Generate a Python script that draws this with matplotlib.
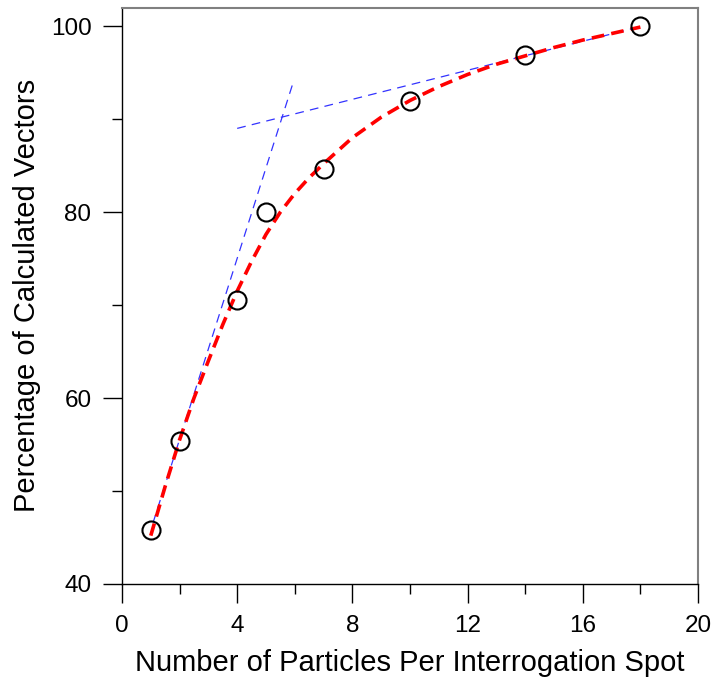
import matplotlib
matplotlib.use("Agg")
import matplotlib.pyplot as plt
from matplotlib.ticker import MultipleLocator

plt.rcParams['font.family'] = ['Liberation Sans', 'DejaVu Sans']

# measured points
particles = [1, 2, 4, 5, 7, 10, 14, 18]
percent = [45.8, 55.4, 70.5, 80.0, 84.6, 92.0, 96.9, 100.0]

# fitted curve
fit_x = [1, 1.5, 2, 2.5, 3, 3.5, 4, 4.5, 5, 5.5, 6, 6.5, 7,
         8, 9, 10, 11, 12, 13, 14, 15, 16, 17, 18]
fit_y = [45.2, 50.5, 55.5, 60.0, 64.0, 67.9, 71.5, 74.7, 77.6, 80.0, 82.0, 83.7, 85.2,
         88.0, 90.2, 92.0, 93.5, 94.8, 95.9, 96.8, 97.7, 98.5, 99.2, 99.9]

# tangent lines
steep_x = [1.08, 5.95]
steep_y = [46.6, 94.0]
flat_x = [4.0, 17.95]
flat_y = [89.0, 99.9]

fig = plt.figure(figsize=(7.15, 6.84), dpi=100)
ax = fig.add_axes([0.1706, 0.1462, 0.8056, 0.8428])

ax.plot(steep_x, steep_y, color='#3333ff', lw=0.9, dashes=(7, 5))
ax.plot(flat_x, flat_y, color='#3333ff', lw=0.9, dashes=(7, 5))
ax.plot(fit_x, fit_y, color='#ff0000', lw=2.6, dashes=(3.5, 2.0))
ax.plot(particles, percent, 'o', mfc='none', mec='black', ms=13, mew=1.5)

ax.set_xlim(0, 20)
ax.set_ylim(40, 102)
ax.xaxis.set_major_locator(MultipleLocator(4))
ax.xaxis.set_minor_locator(MultipleLocator(2))
ax.yaxis.set_major_locator(MultipleLocator(20))
ax.yaxis.set_minor_locator(MultipleLocator(10))
ax.tick_params(which='major', direction='out', length=14, width=1, labelsize=17.5, pad=8)
ax.tick_params(which='minor', direction='out', length=7, width=1)

for s in ['top', 'right']:
    ax.spines[s].set_color('#808080')
    ax.spines[s].set_linewidth(1.5)
for s in ['left', 'bottom']:
    ax.spines[s].set_linewidth(1)

ax.set_xlabel('Number of Particles Per Interrogation Spot', fontsize=21, labelpad=9)
ax.set_ylabel('Percentage of Calculated Vectors', fontsize=21, labelpad=7)

fig.savefig('out.png', dpi=100)
